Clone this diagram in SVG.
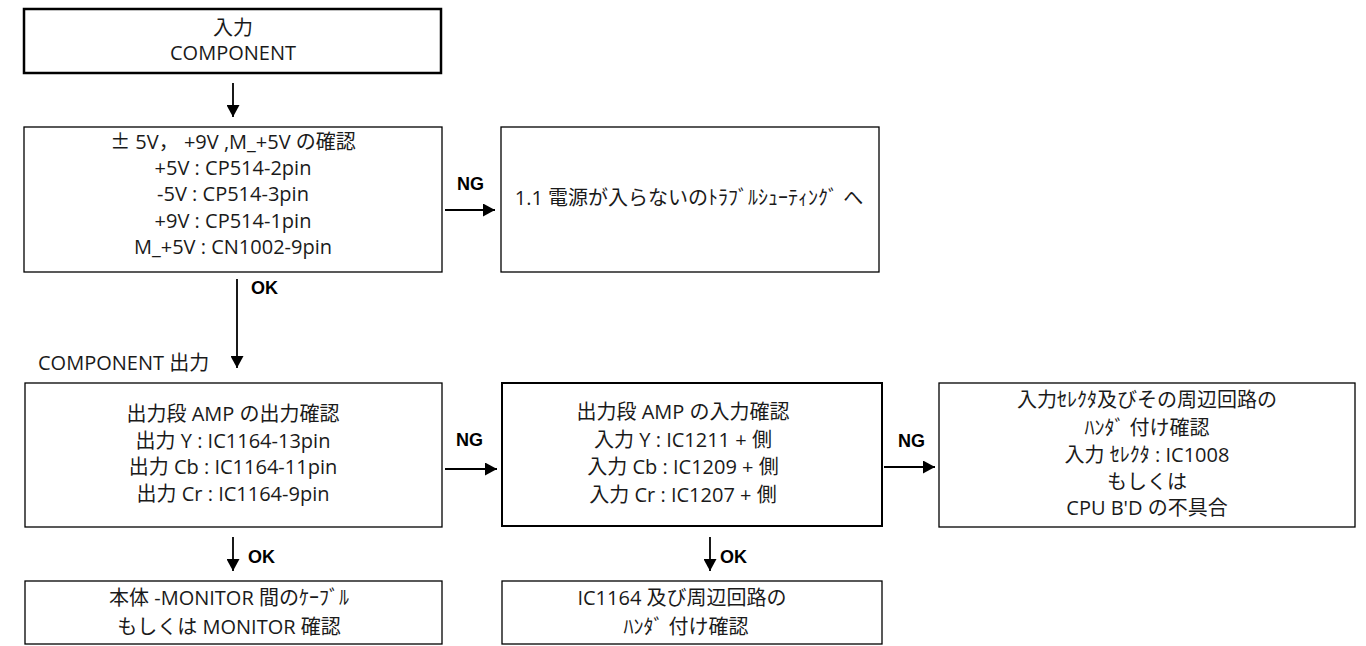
<svg xmlns="http://www.w3.org/2000/svg" width="1366" height="646" viewBox="0 0 1366 646">
<style>
.box{fill:#fff;stroke:#000;stroke-width:1.3}
.thick{stroke-width:2.5}
.mid{stroke-width:2}
.t{font-family:"Open Sans","Noto Sans CJK JP",sans-serif;font-size:20px;fill:#1a1a1a;text-anchor:middle}
.j{font-family:"Noto Sans CJK JP",sans-serif}
.l{font-family:"Liberation Sans",Arial,sans-serif;font-size:18px;font-weight:bold;fill:#000}
.c{stroke:#000;stroke-width:1.8;fill:none}
</style>
<defs>
<marker id="ah" viewBox="0 0 12 13" refX="12" refY="6.5" markerWidth="12" markerHeight="13" markerUnits="userSpaceOnUse" orient="auto">
<path d="M0,0 L12,6.5 L0,13 z" fill="#000"/>
</marker>
</defs>
<rect width="1366" height="646" fill="#fff"/>
<g id="n1">
<rect class="box thick" x="24" y="9" width="417" height="64"/>
<text class="t" x="233" y="35">入力</text>
<text class="t" x="233" y="60">COMPONENT</text>
</g>
<g id="n2">
<rect class="box" x="24" y="127" width="418" height="145"/>
<text class="t" x="233" y="149"><tspan class="j">±</tspan> 5V， +9V ,M_+5V の確認</text>
<text class="t" x="233" y="175">+5V : CP514-2pin</text>
<text class="t" x="233" y="201">-5V : CP514-3pin</text>
<text class="t" x="233" y="228">+9V : CP514-1pin</text>
<text class="t" x="233" y="254">M_+5V : CN1002-9pin</text>
</g>
<g id="n3">
<rect class="box" x="501" y="127" width="378" height="145"/>
<text class="t" x="689" y="205">1.1 電源が入らないのﾄﾗﾌﾞﾙｼｭｰﾃｨﾝｸﾞ へ</text>
</g>
<g id="n4">
<rect class="box" x="25" y="383" width="417" height="144"/>
<text class="t" x="233" y="421">出力段 AMP の出力確認</text>
<text class="t" x="233" y="448">出力 Y : IC1164-13pin</text>
<text class="t" x="233" y="474">出力 Cb : IC1164-11pin</text>
<text class="t" x="233" y="501">出力 Cr : IC1164-9pin</text>
</g>
<g id="n5">
<rect class="box" x="25" y="581" width="417" height="63"/>
<text class="t" x="229" y="605">本体 -MONITOR 間のｹｰﾌﾞﾙ</text>
<text class="t" x="229" y="634">もしくは MONITOR 確認</text>
</g>
<g id="n6">
<rect class="box mid" x="502" y="383" width="380" height="143"/>
<text class="t" x="683" y="419">出力段 AMP の入力確認</text>
<text class="t" x="683" y="447">入力 Y : IC1211 + 側</text>
<text class="t" x="683" y="474">入力 Cb : IC1209 + 側</text>
<text class="t" x="683" y="502">入力 Cr : IC1207 + 側</text>
</g>
<g id="n7">
<rect class="box" x="502" y="581" width="380" height="63"/>
<text class="t" x="682" y="605">IC1164 及び周辺回路の</text>
<text class="t" x="686" y="634">ﾊﾝﾀﾞ 付け確認</text>
</g>
<g id="n8">
<rect class="box" x="939" y="383" width="416" height="144"/>
<text class="t" x="1147" y="407">入力ｾﾚｸﾀ及びその周辺回路の</text>
<text class="t" x="1147" y="435">ﾊﾝﾀﾞ 付け確認</text>
<text class="t" x="1147" y="462">入力 ｾﾚｸﾀ : IC1008</text>
<text class="t" x="1147" y="489">もしくは</text>
<text class="t" x="1147" y="515">CPU B'D の不具合</text>
</g>
<g id="n9">
<text class="t" x="38" y="370" style="text-anchor:start">COMPONENT 出力</text>
</g>
<g id="connectors">
<line class="c" x1="233" y1="83" x2="233" y2="117" marker-end="url(#ah)"/>
<line class="c" x1="445" y1="210" x2="495" y2="210" marker-end="url(#ah)"/>
<line class="c" x1="237" y1="279" x2="237" y2="368" marker-end="url(#ah)"/>
<line class="c" x1="445" y1="469" x2="497" y2="469" marker-end="url(#ah)"/>
<line class="c" x1="884" y1="467" x2="935" y2="467" marker-end="url(#ah)"/>
<line class="c" x1="233" y1="537" x2="233" y2="571" marker-end="url(#ah)"/>
<line class="c" x1="710" y1="537" x2="710" y2="571" marker-end="url(#ah)"/>
<text class="l" x="457" y="190">NG</text>
<text class="l" x="251" y="294">OK</text>
<text class="l" x="456" y="446">NG</text>
<text class="l" x="898" y="447">NG</text>
<text class="l" x="248" y="563">OK</text>
<text class="l" x="720" y="563">OK</text>
</g>
</svg>
